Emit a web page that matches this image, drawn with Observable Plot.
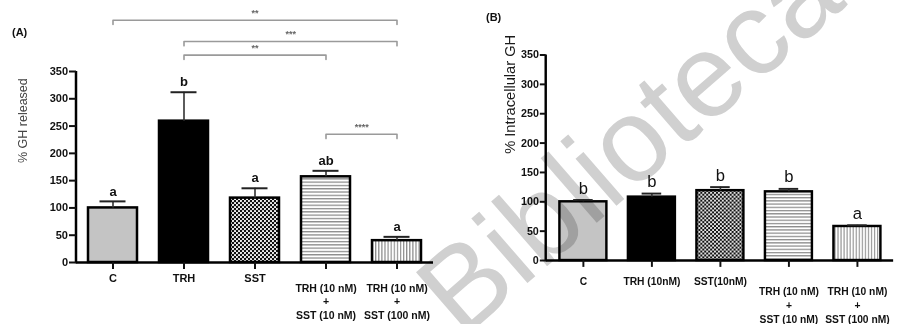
<!DOCTYPE html>
<html>
<head>
<meta charset="utf-8">
<script src="https://cdn.jsdelivr.net/npm/d3@7"></script>
<script src="https://cdn.jsdelivr.net/npm/@observablehq/plot@0.6"></script>
<style>
  html, body { margin: 0; padding: 0; background: #fff; overflow: hidden; }
  #wrap { position: relative; width: 900px; height: 324px; overflow: hidden; font-family: "Liberation Sans", Arial, sans-serif; }
  #panelA { position: absolute; left: 0; top: 0; }
  #panelB { position: absolute; left: 440px; top: 0; }
  .tag { position: absolute; font-weight: bold; font-size: 11px; color: #111; }
  #wm { position: absolute; left: 0; top: 0; mix-blend-mode: multiply; pointer-events: none; }
</style>
</head>
<body>
<div id="wrap">
  <svg width="0" height="0" style="position:absolute">
    <defs>
      <pattern id="dots" width="4" height="4" patternUnits="userSpaceOnUse">
        <rect width="4" height="4" fill="#111"/>
        <circle cx="1" cy="1" r="1.05" fill="#fff"/>
        <circle cx="3" cy="3" r="1.05" fill="#fff"/>
      </pattern>
      <pattern id="hlines" width="4" height="3.3" patternUnits="userSpaceOnUse">
        <rect width="4" height="3.3" fill="#fff"/>
        <rect y="0" width="4" height="1.3" fill="#8c8c8c"/>
      </pattern>
      <pattern id="vlines" width="3.1" height="4" patternUnits="userSpaceOnUse">
        <rect width="3.1" height="4" fill="#fff"/>
        <rect x="0" width="1.2" height="4" fill="#8c8c8c"/>
      </pattern>
    </defs>
  </svg>
  <div id="panelA"></div>
  <div id="panelB"></div>
  <div class="tag" style="left:12px;top:26px;">(A)</div>
  <div class="tag" style="left:486px;top:11px;">(B)</div>
  <svg id="wm" width="900" height="324">
    <text x="462" y="340" transform="rotate(-41 462 340)" font-family="Liberation Sans, Arial, sans-serif" font-size="118" fill="#d0d0d0">Bibliotecas</text>
  </svg>
</div>
<script>
// ---------- data ----------
const categoriesA = ["C", "TRH", "SST", "TRH (10 nM)\n+\nSST (10 nM)", "TRH (10 nM)\n+\nSST (100 nM)"];
const releasedMean = [100, 259, 118, 157, 40];
const releasedSEM = [12, 53, 18, 11, 7];
const releasedLetters = ["a", "b", "a", "ab", "a"];

const categoriesB = ["C", "TRH (10nM)", "SST(10nM)", "TRH (10 nM)\n+\nSST (10 nM)", "TRH (10 nM)\n+\nSST (100 nM)"];
const intracellularMean = [100, 108, 119, 117, 58];
const intracellularSEM = [3, 6, 6, 5, 2];
const intracellularLetters = ["b", "b", "b", "b", "a"];

const yTicks = [0, 50, 100, 150, 200, 250, 300, 350];

// significance brackets for panel A (indices into categoriesA)
const bracketFrom = [0, 1, 1, 3];
const bracketTo = [4, 4, 3, 4];
const bracketStars = ["**", "***", "**", "****"];

// ---------- styling ----------
const fills = ["#c4c4c4", "#000000", "url(#dots)", "url(#hlines)", "url(#vlines)"];
const FONT = "'Liberation Sans', Arial, sans-serif";

function rows(cats, mean, sem, letters) {
  return cats.map((c, i) => ({cat: c, v: mean[i], top: mean[i] + sem[i], letter: letters[i]}));
}

function yAxisLine(index, scales, values, dims) {
  const l = document.createElementNS("http://www.w3.org/2000/svg", "line");
  l.setAttribute("x1", dims.marginLeft);
  l.setAttribute("x2", dims.marginLeft);
  l.setAttribute("y1", scales.y(0) + 1.2);
  l.setAttribute("y2", scales.y(350));
  l.setAttribute("stroke", "#000");
  l.setAttribute("stroke-width", 2.5);
  return l;
}

// ---------- panel A ----------
const dataA = rows(categoriesA, releasedMean, releasedSEM, releasedLetters);
const A = {width: 450, height: 324, ml: 76, mr: 17, mt: 71, mb: 62, pi: 0.31, po: 0.15};
const stepA = (A.width - A.ml - A.mr) / (categoriesA.length - A.pi + 2 * A.po);
const bracketLevelsA = [444, 405, 380, 235]; // y-values (in % units) where the brackets sit
const bracketPts = [];
bracketFrom.forEach((f, i) => {
  const t = bracketTo[i], lv = bracketLevelsA[i], id = i;
  bracketPts.push({id, x: categoriesA[f], y: lv - 8});
  bracketPts.push({id, x: categoriesA[f], y: lv});
  bracketPts.push({id, x: categoriesA[t], y: lv});
  bracketPts.push({id, x: categoriesA[t], y: lv - 8});
});
const starMarks = bracketFrom.map((f, i) => {
  const mid = (f + bracketTo[i]) / 2;
  const base = Math.floor(mid);
  return Plot.text([{x: categoriesA[base], y: bracketLevelsA[i], s: bracketStars[i]}],
    {x: "x", y: "y", text: "s", dx: (mid - base) * stepA, dy: -7, fontSize: 9, fill: "#666", fontWeight: "bold"});
});

const singleA = categoriesA.filter(c => !c.includes("\n"));
const multiA = categoriesA.filter(c => c.includes("\n"));

const plotA = Plot.plot({
  width: A.width, height: A.height,
  marginLeft: A.ml, marginRight: A.mr, marginTop: A.mt, marginBottom: A.mb,
  style: {fontFamily: FONT, background: "transparent", overflow: "visible", color: "#111"},
  x: {type: "band", domain: categoriesA, paddingInner: A.pi, paddingOuter: A.po, axis: null},
  y: {domain: [0, 350], axis: null},
  color: {type: "ordinal", domain: categoriesA, range: fills},
  marks: [
    Plot.barY(dataA, {x: "cat", y: "v", fill: "cat", stroke: "#000", strokeWidth: 2.5}),
    Plot.ruleX(dataA, {x: "cat", y1: "v", y2: "top", stroke: "#333", strokeWidth: 1.6}),
    Plot.tickY(dataA, {x: "cat", y: "top", insetLeft: 11.5, insetRight: 11.5, stroke: "#222", strokeWidth: 2}),
    Plot.text(dataA, {x: "cat", y: "top", text: "letter", dy: -10, fontSize: 13, fontWeight: "bold", fill: "#111"}),
    Plot.line(bracketPts, {x: "x", y: "y", z: "id", stroke: "#9a9a9a", strokeWidth: 1.6}),
    ...starMarks,
    Plot.ruleY([0], {stroke: "#000", strokeWidth: 2.5}),
    yAxisLine,
    Plot.axisY({ticks: yTicks, tickSize: 7, tickPadding: 1.5, strokeWidth: 2, fontSize: 11, fontWeight: "bold", label: null}),
    Plot.axisX({tickSize: 7, strokeWidth: 2, tickFormat: () => "", label: null}),
    Plot.axisX(singleA, {tickSize: 0, tickPadding: 12, fontSize: 11, fontWeight: "bold", label: null}),
    Plot.axisX(multiA, {tickSize: 0, tickPadding: 20, fontSize: 10.5, fontWeight: "bold", lineHeight: 1.27, label: null}),
    Plot.text(["% GH released"], {frameAnchor: "left", rotate: -90, dx: -54, dy: -4, fontSize: 12.5, fill: "#444"})
  ]
});
document.getElementById("panelA").appendChild(plotA);

// ---------- panel B ----------
const dataB = rows(categoriesB, intracellularMean, intracellularSEM, intracellularLetters);
const B = {width: 470, height: 324, ml: 108, mr: 7, mt: 55.7, mb: 58.3, pi: 0.32, po: 0.18};
const singleB = categoriesB.filter(c => !c.includes("\n"));
const multiB = categoriesB.filter(c => c.includes("\n"));

const plotB = Plot.plot({
  width: B.width, height: B.height,
  marginLeft: B.ml, marginRight: B.mr, marginTop: B.mt, marginBottom: B.mb,
  style: {fontFamily: FONT, background: "transparent", overflow: "visible", color: "#111"},
  x: {type: "band", domain: categoriesB, paddingInner: B.pi, paddingOuter: B.po, axis: null},
  y: {domain: [0, 350], axis: null},
  color: {type: "ordinal", domain: categoriesB, range: fills},
  marks: [
    Plot.barY(dataB, {x: "cat", y: "v", fill: "cat", stroke: "#000", strokeWidth: 2.5}),
    Plot.ruleX(dataB, {x: "cat", y1: "v", y2: "top", stroke: "#333", strokeWidth: 1.6}),
    Plot.tickY(dataB, {x: "cat", y: "top", insetLeft: 14, insetRight: 14, stroke: "#222", strokeWidth: 2}),
    Plot.text(dataB, {x: "cat", y: "top", text: "letter", dy: -12, fontSize: 17, fill: "#111"}),
    Plot.ruleY([0], {stroke: "#000", strokeWidth: 2.5}),
    yAxisLine,
    Plot.axisY({ticks: yTicks, tickSize: 6, tickPadding: 1.5, strokeWidth: 2, fontSize: 11, fontWeight: "bold", label: null}),
    Plot.axisX({tickSize: 7, strokeWidth: 2, tickFormat: () => "", label: null}),
    Plot.axisX(singleB, {tickSize: 0, tickPadding: 18, fontSize: 10.5, fontWeight: "bold", label: null}),
    Plot.axisX(multiB, {tickSize: 0, tickPadding: 25, fontSize: 10.5, fontWeight: "bold", lineHeight: 1.38, label: null}),
    Plot.text(["% Intracellular GH"], {frameAnchor: "left", rotate: -90, dx: -37, dy: -4, fontSize: 15, fill: "#1a1a1a"})
  ]
});
document.getElementById("panelB").appendChild(plotB);
</script>
</body>
</html>
